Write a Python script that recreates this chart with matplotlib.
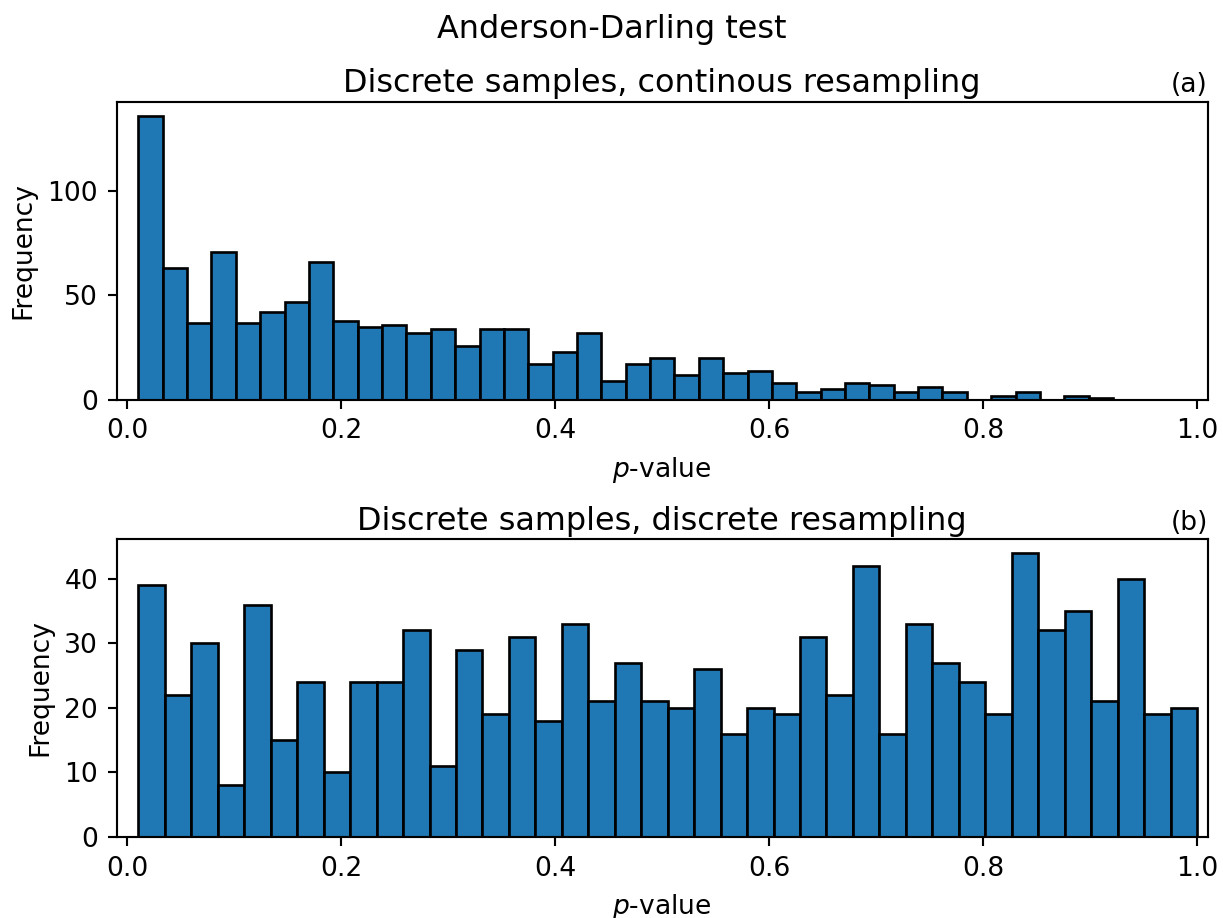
import numpy as np
import matplotlib
matplotlib.use("Agg")
import matplotlib.pyplot as plt

# ---------------------------------------------------------------------------
# DATA (counts, 40 bins each)
# ---------------------------------------------------------------------------
cont_counts = [136, 63, 37, 71, 37, 42, 47, 66, 38, 35,
               36, 32, 34, 26, 34, 34, 17, 23, 32, 9,
               17, 20, 12, 20, 13, 14, 8, 4, 5, 8,
               7, 4, 6, 4, 0, 2, 4, 0, 2, 1]
cont_range = (0.0103, 0.9215)

disc_counts = [39, 22, 30, 8, 36, 15, 24, 10, 24, 24,
               32, 11, 29, 19, 31, 18, 33, 21, 27, 21,
               20, 26, 16, 20, 19, 31, 22, 42, 16, 33,
               27, 24, 19, 44, 32, 35, 21, 40, 19, 20]
disc_range = (0.0103, 1.0)

titles = ["Discrete samples, continous resampling",
          "Discrete samples, discrete resampling"]
tags = ["(a)", "(b)"]


def draw_hist(ax, counts, rng, title, tag):
    edges = np.linspace(rng[0], rng[1], len(counts) + 1)
    centers = 0.5 * (edges[:-1] + edges[1:])
    ax.hist(centers, bins=edges, weights=counts, color="#1f77b4", edgecolor="black")
    ax.set_xlim(-0.01, 1.01)
    ax.set_title(title, fontsize=12, pad=6.8)
    ax.set_title(tag, loc="right", fontsize=10, pad=3.5)
    ax.set_xlabel("$p$-value")
    ax.set_ylabel("Frequency")


if __name__ == "__main__":
    fig, axes = plt.subplots(2, 1, figsize=(1223 / 191, 918 / 191), dpi=191)
    fig.subplots_adjust(left=0.0954, right=0.9875, bottom=0.0882, top=0.8892, hspace=0.466)

    draw_hist(axes[0], cont_counts, cont_range, titles[0], tags[0])
    draw_hist(axes[1], disc_counts, disc_range, titles[1], tags[1])

    fig.suptitle("Anderson-Darling test", fontsize=12, y=0.985)

    fig.savefig("out.png", dpi=191, facecolor="white")
    plt.close(fig)
